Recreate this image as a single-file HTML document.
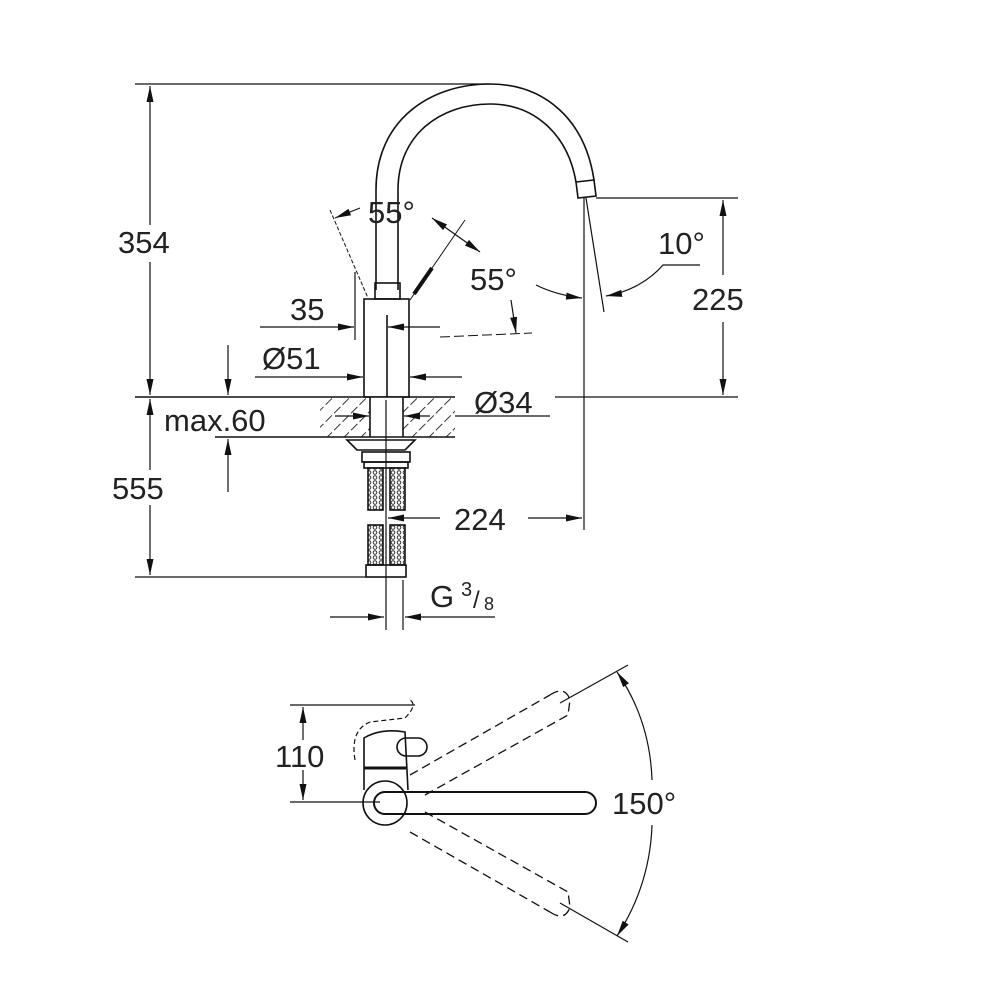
<!DOCTYPE html>
<html><head><meta charset="utf-8"><style>
html,body{margin:0;padding:0;background:#fff;}
svg{display:block}
text{font-family:"Liberation Sans",sans-serif;fill:#222;}
</style></head><body>
<svg width="1000" height="1000" viewBox="0 0 1000 1000" xmlns="http://www.w3.org/2000/svg">
<defs>
<marker id="a" viewBox="0 0 16 8" refX="16" refY="4" markerWidth="16" markerHeight="8" orient="auto-start-reverse" markerUnits="userSpaceOnUse"><path d="M0,0.5 L16,4 L0,7.5 z" fill="#111"/></marker>
<pattern id="h" width="12" height="12" patternUnits="userSpaceOnUse" patternTransform="rotate(45)"><line x1="0" y1="0" x2="0" y2="12" stroke="#222" stroke-width="1.8" stroke-dasharray="8,3"/></pattern>
<pattern id="t" width="6" height="5" patternUnits="userSpaceOnUse"><rect width="6" height="5" fill="#fff"/><circle cx="3" cy="2.5" r="1.8" fill="none" stroke="#333" stroke-width="1"/></pattern>
</defs>
<g fill="none" stroke="#111" stroke-width="1.6">
<path d="M376,290 L376,190 C376,120 430,84 490,84 C545,84 585,120 594,180"/>
<path d="M398,290 L398,190 C398,135 440,104 490,104 C535,104 568,135 576,182"/>
<path d="M576,182 L594,180 L596,196 L578,198 Z"/>
<rect x="375" y="283" width="25" height="16"/>
<rect x="364" y="299" width="45" height="98"/>
<line x1="387" y1="315" x2="387" y2="397"/>
<rect x="320" y="397" width="135" height="40" fill="url(#h)" stroke="none"/>
<rect x="370" y="397" width="33" height="40" fill="#fff" stroke="none"/>
<line x1="135" y1="397" x2="455" y2="397"/>
<line x1="215" y1="437" x2="455" y2="437"/>
<line x1="370" y1="397" x2="370" y2="437"/>
<line x1="403" y1="397" x2="403" y2="437"/>
<line x1="455" y1="416" x2="550" y2="416" stroke-width="1.2"/>
<line x1="555" y1="397" x2="738" y2="397" stroke-width="1.2"/>
<path d="M347,440 L415,440 L405,450 L357,450 Z"/>
<rect x="362" y="452" width="48" height="10"/>
<rect x="364" y="462" width="44" height="6"/>
<rect x="368" y="468" width="15" height="42" fill="url(#t)"/>
<rect x="390" y="468" width="15" height="42" fill="url(#t)"/>
<rect x="368" y="525" width="15" height="40" fill="url(#t)"/>
<rect x="390" y="525" width="15" height="40" fill="url(#t)"/>
<rect x="366" y="565" width="40" height="12"/>
<line x1="386" y1="400" x2="386" y2="630" stroke-width="1.2"/>
<line x1="403" y1="580" x2="403" y2="630" stroke-width="1.2"/>
<line x1="135" y1="84" x2="490" y2="84" stroke-width="1.2"/>
<line x1="135" y1="577" x2="366" y2="577" stroke-width="1.2"/>
<line x1="150" y1="86" x2="150" y2="225" marker-start="url(#a)" stroke-width="1.2"/>
<line x1="150" y1="262" x2="150" y2="395" marker-end="url(#a)" stroke-width="1.2"/>
<line x1="150" y1="399" x2="150" y2="470" marker-start="url(#a)" stroke-width="1.2"/>
<line x1="150" y1="505" x2="150" y2="575" marker-end="url(#a)" stroke-width="1.2"/>
<line x1="228" y1="345" x2="228" y2="395" marker-end="url(#a)" stroke-width="1.2"/>
<line x1="228" y1="492" x2="228" y2="439" marker-end="url(#a)" stroke-width="1.2"/>
<line x1="355" y1="272" x2="355" y2="340" stroke-width="1.2"/>
<line x1="260" y1="327" x2="354" y2="327" marker-end="url(#a)" stroke-width="1.2"/>
<line x1="440" y1="327" x2="388" y2="327" marker-end="url(#a)" stroke-width="1.2"/>
<line x1="255" y1="377" x2="363" y2="377" marker-end="url(#a)" stroke-width="1.2"/>
<line x1="462" y1="377" x2="410" y2="377" marker-end="url(#a)" stroke-width="1.2"/>
<line x1="335" y1="416" x2="369" y2="416" marker-end="url(#a)" stroke-width="1.2"/>
<line x1="430" y1="416" x2="404" y2="416" marker-end="url(#a)" stroke-width="1.2"/>
<line x1="584" y1="198" x2="584" y2="530" stroke-width="1.2"/>
<line x1="440" y1="518" x2="388" y2="518" marker-end="url(#a)" stroke-width="1.2"/>
<line x1="528" y1="518" x2="582" y2="518" marker-end="url(#a)" stroke-width="1.2"/>
<line x1="596" y1="198" x2="738" y2="198" stroke-width="1.2"/>
<line x1="723" y1="275" x2="723" y2="200" marker-end="url(#a)" stroke-width="1.2"/>
<line x1="723" y1="322" x2="723" y2="395" marker-end="url(#a)" stroke-width="1.2"/>
<line x1="586" y1="198" x2="604" y2="312" stroke-width="1.2"/>
<path d="M700,265 L663,265 C650,280 630,292 606,296" marker-end="url(#a)" stroke-width="1.2"/>
<line x1="330" y1="210" x2="368" y2="298" stroke-width="1" stroke-dasharray="4,2"/>
<line x1="465" y1="220" x2="410" y2="300" stroke-width="1"/>
<line x1="414" y1="294" x2="432" y2="268" stroke-width="4"/>
<line x1="360" y1="208" x2="335" y2="218" marker-end="url(#a)" stroke-width="1.2"/>
<path d="M432,218 L480,252" stroke-width="1.2" marker-start="url(#a)" marker-end="url(#a)"/>
<path d="M536,285 C550,292 565,296 582,298" marker-end="url(#a)" stroke-width="1.2"/>
<line x1="511" y1="300" x2="516" y2="333" marker-end="url(#a)" stroke-width="1.2"/>
<line x1="440" y1="337" x2="532" y2="333" stroke-width="1" stroke-dasharray="10,4"/>
<line x1="330" y1="617" x2="384" y2="617" marker-end="url(#a)" stroke-width="1.2"/>
<line x1="495" y1="617" x2="405" y2="617" marker-end="url(#a)" stroke-width="1.2"/>
<line x1="290" y1="705" x2="415" y2="705" stroke-width="1.2"/>
<line x1="290" y1="802" x2="380" y2="802" stroke-width="1.2"/>
<line x1="303" y1="707" x2="303" y2="740" marker-start="url(#a)" stroke-width="1.2"/>
<line x1="303" y1="770" x2="303" y2="800" marker-end="url(#a)" stroke-width="1.2"/>
<path d="M364,790 L364,738 Q380,728 405,732 L408,790"/>
<line x1="364" y1="768" x2="406" y2="768" stroke-width="3"/>
<rect x="397" y="738" width="30" height="18" rx="9"/>
<circle cx="385" cy="803" r="22"/>
<rect x="374" y="792" width="222" height="22" rx="11" stroke-width="2"/>
<path d="M355,760 Q350,730 370,722 L405,718 Q418,705 410,700" stroke-dasharray="5,3" stroke-width="1.2"/>
<g stroke-dasharray="9,5" stroke-width="1.3">
<line x1="410" y1="775" x2="550" y2="695"/>
<line x1="425" y1="795" x2="568" y2="715"/>
<path d="M550,695 Q565,685 570,700 L568,715"/>
<line x1="410" y1="832" x2="550" y2="912"/>
<line x1="425" y1="812" x2="568" y2="892"/>
<path d="M550,912 Q565,922 570,907 L568,892"/>
</g>
<line x1="560" y1="703" x2="628" y2="665" stroke-width="1.2"/>
<line x1="560" y1="903" x2="628" y2="942" stroke-width="1.2"/>
<path d="M617,672 Q650,720 652,780" marker-start="url(#a)" stroke-width="1.2"/>
<path d="M652,825 Q650,885 617,936" marker-end="url(#a)" stroke-width="1.2"/>
</g>
<g font-size="31">
<text x="118" y="253">354</text>
<text x="112" y="499">555</text>
<text x="164" y="431">max.60</text>
<text x="290" y="320">35</text>
<text x="262" y="369">Ø51</text>
<text x="474" y="413">Ø34</text>
<text x="454" y="530">224</text>
<text x="368" y="223">55°</text>
<text x="470" y="290">55°</text>
<text x="658" y="254">10°</text>
<text x="692" y="310">225</text>
<text x="430" y="607">G</text>
<text x="461" y="596" font-size="20">3</text>
<text x="473" y="608" font-size="24">/</text>
<text x="484" y="610" font-size="18">8</text>
<text x="275" y="767">110</text>
<text x="612" y="814">150°</text>
</g>
</svg>
</body></html>
